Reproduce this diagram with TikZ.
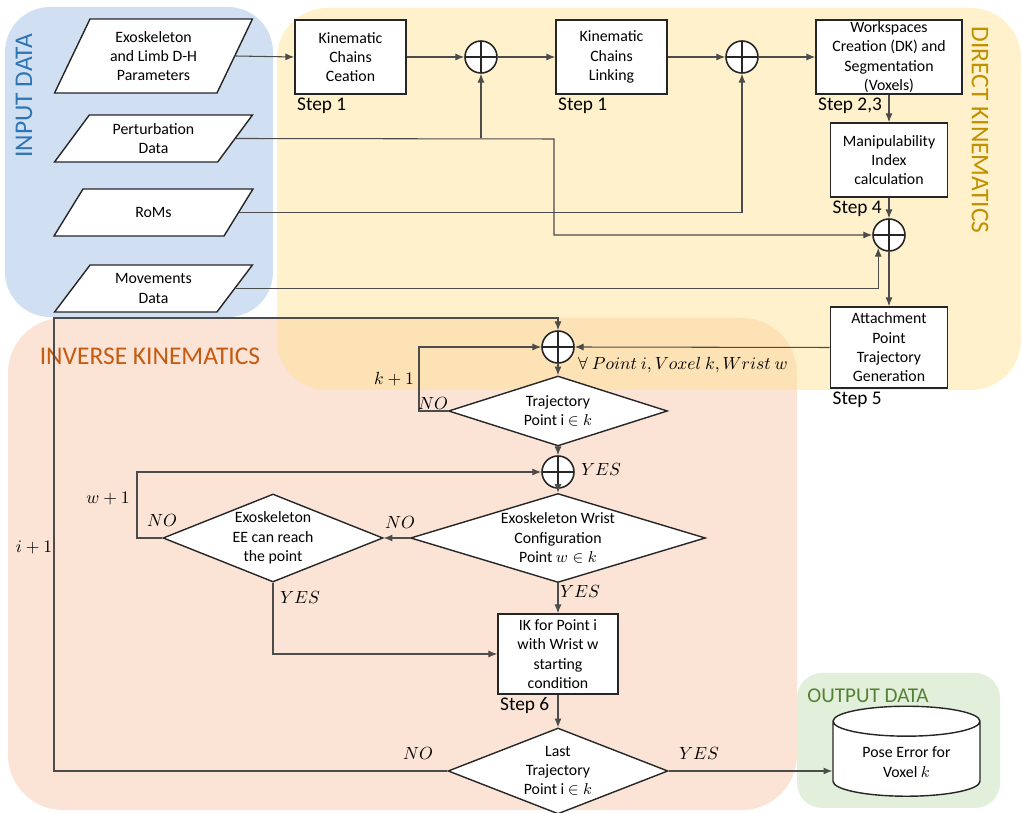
\documentclass[tikz,border=0pt]{standalone}
\usepackage{fontspec}
\setmainfont{Carlito}
\usetikzlibrary{shapes.geometric,arrows.meta}

\definecolor{inblue}{RGB}{208,224,242}
\definecolor{dkyellow}{RGB}{255,225,139}
\definecolor{iksalmon}{RGB}{251,228,214}
\definecolor{outgreen}{RGB}{226,239,218}
\definecolor{inbluetext}{RGB}{46,117,182}
\definecolor{dkgold}{RGB}{191,144,0}
\definecolor{ikorange}{RGB}{197,90,17}
\definecolor{outgreentext}{RGB}{84,130,53}

\begin{document}
\begin{tikzpicture}[x=0.02cm, y=-0.02cm, >={Latex[length=5pt,width=4pt]},
    every node/.style={font=\fontsize{9}{11}\selectfont},
    pnode/.style={trapezium, trapezium stretches=true, draw=black!85, fill=white, line width=0.8pt, minimum width=3.98cm, minimum height=0.94cm, trapezium left angle=54, trapezium right angle=126, align=center, inner sep=0pt},
    bnode/.style={draw=black!85, fill=white, line width=0.9pt, minimum width=2.22cm, minimum height=1.48cm, align=center, inner sep=1pt},
    snode/.style={circle, draw=black!85, fill=white, line width=0.9pt, minimum size=0.64cm, inner sep=0pt,
        path picture={\draw[black!85, line width=0.9pt] (path picture bounding box.north) -- (path picture bounding box.south) (path picture bounding box.west) -- (path picture bounding box.east);}},
    dnode/.style={diamond, draw=black!85, fill=white, line width=0.8pt, align=center, inner sep=0pt},
    stepnode/.style={font=\fontsize{11}{13}\selectfont, anchor=north west, inner sep=1.5pt},
    mnode/.style={font=\fontsize{10}{12}\selectfont, inner sep=1pt},
    conn/.style={draw=black!70, line width=0.6pt},
    area/.style={font=\fontsize{14.5}{17}\selectfont, inner sep=0pt}]

    \useasboundingbox (0,0) rectangle (1022,813);

    % coloured areas
    \fill[iksalmon, rounded corners=1.1cm] (8,318) rectangle (797,810);
    \fill[inblue, rounded corners=0.9cm] (5,7) rectangle (273,317);
    \fill[dkyellow, fill opacity=0.45, rounded corners=1cm] (277,8) rectangle (1021,390);
    \fill[outgreen, rounded corners=0.5cm] (797,673) rectangle (1000,808);

    \node[area, rotate=90, text=inbluetext] (tin) at (24,96) {INPUT DATA};
    \node[area, rotate=-90, text=dkgold] (tdk) at (980,130) {DIRECT KINEMATICS};
    \node[area, text=ikorange] (tik) at (150,356) {INVERSE KINEMATICS};
    \node[area, text=outgreentext, font=\fontsize{12}{14}\selectfont] (tout) at (868,696) {OUTPUT DATA};

    % input data
    \node[pnode, minimum height=1.48cm, trapezium left angle=64, trapezium right angle=116] (dh) at (153.5,56) {Exoskeleton\\and Limb D-H\\Parameters};
    \node[pnode] (pert) at (153.5,138.5) {Perturbation\\Data};
    \node[pnode] (roms) at (153.5,212.5) {RoMs};
    \node[pnode] (mov) at (153.5,288.5) {Movements\\Data};

    % direct kinematics
    \node[bnode] (kcc) at (350.5,57) {Kinematic\\Chains\\Ceation};
    \node[snode] (sum1) at (481,57) {};
    \node[bnode] (kcl) at (611.5,57) {Kinematic\\Chains\\Linking};
    \node[snode] (sum2) at (742,57) {};
    \node[bnode, minimum width=2.92cm, inner ysep=0pt] (ws) at (889,57) {Workspaces\\Creation (DK) and\\Segmentation\\(Voxels)};
    \node[bnode, minimum width=2.34cm] (mi) at (889,160) {Manipulability\\Index\\calculation};
    \node[snode] (sum3) at (889,235) {};
    \node[bnode, minimum width=2.34cm, minimum height=1.62cm] (apt) at (889,347.5) {Attachment\\Point\\Trajectory\\Generation};

    \node[stepnode] at (kcc.south west) {Step 1};
    \node[stepnode] at (kcl.south west) {Step 1};
    \node[stepnode] at (ws.south west) {Step 2,3};
    \node[stepnode] at (mi.south west) {Step 4};
    \node[stepnode] at (apt.south west) {Step 5};

    % inverse kinematics
    \node[snode] (sum4) at (558,347) {};
    \node[dnode, minimum width=4.38cm, minimum height=1.4cm, aspect=3.1] (traj) at (558,411) {Trajectory\\Point i $\in k$};
    \node[snode] (sum5) at (558,472) {};
    \node[dnode, minimum width=5.9cm, minimum height=1.78cm, aspect=3.3] (wrist) at (558,538) {Exoskeleton Wrist\\Configuration\\Point $w\in k$};
    \node[dnode, minimum width=4.4cm, minimum height=1.76cm, aspect=2.5] (reach) at (273,538) {Exoskeleton\\EE can reach\\the point};
    \node[bnode, minimum width=2.4cm, minimum height=1.6cm] (ik) at (558,654) {IK for Point i\\with Wrist w\\starting\\condition};
    \node[stepnode] at (ik.south west) {Step 6};
    \node[dnode, minimum width=4.4cm, minimum height=1.72cm, aspect=2.56] (last) at (558,771) {Last\\Trajectory\\Point i $\in k$};

    % output data
    \node[cylinder, shape border rotate=90, aspect=0.3, draw=black!85, fill=white, line width=0.8pt, minimum width=2.94cm, minimum height=1.8cm, align=center] (pose) at (906.5,762) {Pose Error for\\Voxel $k$};

    \coordinate (pj) at (554,139);
    \coordinate (kloop) at (419,347);
    \coordinate (wloop) at (137,472);
    \coordinate (iloop) at (54,318);

    % connectors
    \draw[conn, ->] (dh.east) -- (kcc.west);
    \draw[conn, ->] (kcc) -- (sum1);
    \draw[conn, ->] (sum1) -- (kcl);
    \draw[conn, ->] (kcl) -- (sum2);
    \draw[conn, ->] (sum2) -- (ws);
    \draw[conn, ->] (pert.east) -- (pj) |- (sum3.west);
    \draw[conn, ->] (pert.east -| sum1) -- (sum1.south);
    \draw[conn, ->] (roms.east) -| (sum2.south);
    \draw[conn, ->] (mov.east) -| (sum3.-130);
    \draw[conn, ->] (ws) -- (mi);
    \draw[conn, ->] (mi) -- (sum3);
    \draw[conn, ->] (sum3) -- (apt);
    \draw[conn, ->] (apt.west) -- (sum4.east);
    \draw[conn, ->] (sum4) -- (traj);
    \draw[conn, ->] (traj) -- (sum5);
    \draw[conn, ->] (sum5) -- (wrist);
    \draw[conn, ->] (wrist.west) -- (reach.east);
    \draw[conn, ->] (wrist) -- (ik);
    \draw[conn, ->] (ik) -- (last);
    \draw[conn, ->] (last.east) -- (last.east -| pose.west);
    \draw[conn, ->] (traj.west) -| (kloop) -- (sum4.west);
    \draw[conn, ->] (reach.west) -| (wloop) -- (sum5.west);
    \draw[conn, ->] (reach.south) |- (ik.west);
    \draw[conn, ->] (last.west) -| (iloop) -| (sum4.north);

    % loop labels
    \node[mnode, anchor=west] at (576,365) {$\forall\ Point\ i, Voxel\ k, Wrist\ w$};
    \node[mnode] at (394,379) {$k+1$};
    \node[mnode] at (433,404) {$NO$};
    \node[mnode] at (601,470) {$YES$};
    \node[mnode] at (400,523) {$NO$};
    \node[mnode] at (108,499) {$w+1$};
    \node[mnode] at (162,521) {$NO$};
    \node[mnode] at (300,598) {$YES$};
    \node[mnode] at (580,592) {$YES$};
    \node[mnode] at (34,547) {$i+1$};
    \node[mnode] at (418,754) {$NO$};
    \node[mnode] at (699,754) {$YES$};
\end{tikzpicture}
\end{document}
